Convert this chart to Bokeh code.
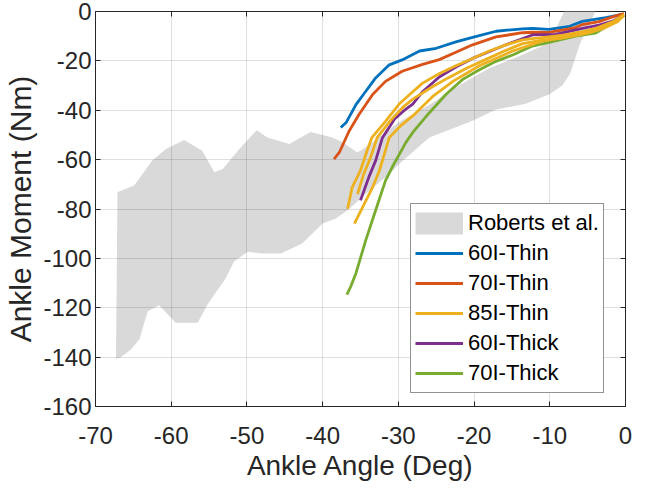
from bokeh.plotting import figure
from bokeh.models import (Legend, LegendItem, LinearAxis, FixedTicker, Range1d,
                          CustomLabelingPolicy)
from bokeh.embed import file_html
from bokeh.resources import INLINE

# ---- data ----
x_ticks = [-70, -60, -50, -40, -30, -20, -10, 0]
y_ticks = [-160, -140, -120, -100, -80, -60, -40, -20, 0]

roberts_upper_x = [-67.1, -64.9, -62.5, -60.7, -58.3, -55.9, -54.3, -53.2, -51.0, -48.7, -47.3, -44.4,
                   -41.6, -38.7, -37.4, -35.4, -34.7, -33.4, -30.0, -26.0, -22.0, -18.0, -14.0, -11.0,
                   -9.5, -8.1, -4.0]
roberts_upper_y = [-73.2, -70.5, -60.4, -55.7, -52.0, -56.4, -65.1, -63.8, -55.7, -48.1, -51.0, -53.7,
                   -48.8, -51.0, -53.0, -57.1, -55.8, -53.0, -45.0, -38.0, -30.0, -23.0, -18.0, -14.0,
                   -9.0, 0.0, 0.0]
roberts_lower_x = [-67.2, -67.3, -66.7, -65.3, -64.2, -63.1, -61.6, -59.4, -56.5, -55.2, -52.8, -51.7,
                   -49.9, -47.9, -45.5, -42.7, -40.0, -38.3, -36.7, -34.0, -31.2, -29.9, -25.9, -20.2,
                   -17.1, -13.2, -10.1, -8.3, -7.3, -6.0, -4.1]
roberts_lower_y = [-109.3, -140.6, -140.2, -136.8, -132.8, -121.4, -119.0, -126.1, -126.1, -118.7, -108.0, -101.3,
                   -97.3, -98.0, -98.0, -94.0, -85.9, -83.9, -80.5, -73.0, -65.8, -61.8, -51.0, -44.3,
                   -39.7, -37.4, -33.6, -29.9, -25.0, -13.0, -0.8]

thin60_x = [-37.6, -36.9, -35.6, -34.3, -33.0, -31.2, -29.5, -27.2, -25.0, -22.4, -20.2, -17.1, -13.6,
            -12.3, -10.1, -7.4, -5.7, -2.6, -0.4]
thin60_y = [-47.0, -45.0, -37.7, -32.3, -26.9, -21.6, -19.6, -16.0, -14.9, -12.3, -10.5, -8.0, -7.0,
            -6.8, -7.2, -6.0, -4.0, -2.5, -1.2]

thin70_x = [-38.5, -37.8, -36.5, -35.2, -33.4, -31.7, -29.5, -26.8, -24.6, -22.4, -20.2, -17.1, -13.6,
            -12.3, -10.1, -6.6, -5.7, -3.5, -1.3, -0.2]
thin70_y = [-59.8, -57.1, -48.4, -41.7, -33.6, -28.3, -24.2, -21.4, -19.5, -16.5, -13.5, -10.3, -8.6,
            -8.4, -8.5, -6.5, -5.3, -4.1, -1.8, -0.8]

thin85a_x = [-36.7, -36.1, -35.0, -34.2, -33.5, -31.7, -29.9, -28.1, -26.8, -24.5, -22.4, -20.2, -18.0,
             -15.8, -13.6, -12.3, -10.1, -8.0, -5.7, -3.9, -1.7, -0.2]
thin85a_y = [-79.9, -71.2, -64.4, -57.0, -51.1, -44.5, -37.5, -32.5, -29.0, -25.0, -22.0, -19.0, -16.0,
             -13.5, -11.5, -11.0, -10.3, -9.5, -8.2, -6.8, -4.2, -1.2]

thin85b_x = [-35.4, -34.6, -33.6, -32.8, -31.0, -29.3, -28.1, -25.5, -23.5, -21.0, -18.5, -16.0, -13.6,
             -11.0, -8.5, -6.0, -4.0, -2.0, -0.3]
thin85b_y = [-74.0, -66.0, -58.5, -51.1, -44.0, -38.5, -35.5, -30.5, -27.0, -23.0, -19.5, -16.0, -13.0,
             -11.6, -10.8, -9.3, -7.6, -5.2, -1.8]

thin85c_x = [-35.8, -34.5, -33.4, -32.5, -31.2, -29.6, -28.1, -25.5, -22.8, -19.3, -14.9, -11.0, -8.0,
             -5.0, -3.0, -1.0, -0.2]
thin85c_y = [-85.9, -77.9, -71.2, -64.4, -51.1, -46.0, -42.3, -34.5, -28.3, -22.0, -16.0, -12.0, -10.5,
             -8.8, -7.0, -4.0, -1.5]

thick60_x = [-35.0, -33.9, -33.0, -32.1, -30.5, -29.0, -28.1, -26.8, -24.6, -22.4, -20.2, -15.8, -12.3,
             -9.2, -5.7, -3.5, -1.8, -0.2]
thick60_y = [-76.5, -67.1, -60.4, -51.1, -43.5, -39.5, -37.5, -32.5, -26.5, -22.5, -19.0, -13.5, -9.5,
             -9.3, -6.8, -5.5, -4.0, -1.5]

thick70_x = [-36.8, -36.3, -35.6, -34.3, -33.0, -31.7, -30.8, -29.0, -28.1, -25.9, -23.7, -21.5, -19.3,
             -17.1, -14.9, -12.3, -10.1, -6.6, -4.0, -2.2, -0.2]
thick70_y = [-114.7, -111.5, -106.0, -92.6, -80.5, -68.5, -63.0, -53.0, -49.0, -41.0, -33.5, -27.5, -23.6,
             -20.2, -17.6, -14.0, -12.5, -10.0, -8.8, -5.5, -1.5]

labels = ["Roberts et al.", "60I-Thin", "70I-Thin", "85I-Thin", "60I-Thick", "70I-Thick"]

# ---- styling ----
FONT = "Liberation Sans"
AX = "#262626"
BLUE, ORANGE, YELLOW, PURPLE, GREEN = "#0072BD", "#D95319", "#EDB120", "#7E2F8E", "#77AC30"
GRAY = "#d9d9d9"
LW = 2.8

p = figure(frame_width=530, frame_height=395,
           x_range=Range1d(-70, 0), y_range=Range1d(-160, 0),
           output_backend="svg", toolbar_location=None,
           min_border_left=95, min_border_right=13, min_border_top=8, min_border_bottom=71,
           background_fill_color="white", border_fill_color="white")

p.outline_line_color = AX
p.outline_line_width = 1

for ax in (p.xaxis[0], p.yaxis[0]):
    ax.axis_line_color = None
    ax.major_tick_in = 5
    ax.major_tick_out = 0
    ax.minor_tick_in = 0
    ax.minor_tick_out = 0
    ax.major_tick_line_color = AX
    ax.major_label_text_font = FONT
    ax.major_label_text_font_size = "24px"
    ax.major_label_text_color = AX
    ax.axis_label_text_font = FONT
    ax.axis_label_text_font_style = "normal"
    ax.axis_label_text_color = AX

p.xaxis[0].axis_label_text_font_size = "28px"
p.yaxis[0].axis_label_text_font_size = "30px"
p.xaxis[0].ticker = FixedTicker(ticks=x_ticks)
p.yaxis[0].ticker = FixedTicker(ticks=y_ticks)
p.xaxis[0].major_label_overrides = {t: str(t) for t in x_ticks}
p.yaxis[0].major_label_overrides = {t: str(t) for t in y_ticks}
p.xaxis[0].axis_label = "Ankle Angle (Deg)"
p.yaxis[0].axis_label = "Ankle Moment (Nm)"
p.xaxis[0].major_label_standoff = 20
p.xaxis[0].axis_label_standoff = 3
p.yaxis[0].major_label_standoff = 4
p.yaxis[0].axis_label_standoff = 3

top = LinearAxis(ticker=FixedTicker(ticks=x_ticks), axis_line_color=None,
                 major_tick_in=5, major_tick_out=0, minor_tick_in=0, minor_tick_out=0,
                 major_tick_line_color=AX,
                 major_label_policy=CustomLabelingPolicy(code="for (const i of indices) { indices.unset(i) }\nreturn indices"),
                 major_label_standoff=0)
right = LinearAxis(ticker=FixedTicker(ticks=y_ticks), axis_line_color=None,
                   major_tick_in=5, major_tick_out=0, minor_tick_in=0, minor_tick_out=0,
                   major_tick_line_color=AX,
                   major_label_policy=CustomLabelingPolicy(code="for (const i of indices) { indices.unset(i) }\nreturn indices"),
                   major_label_standoff=0)
p.add_layout(top, "above")
p.add_layout(right, "right")

p.grid.grid_line_color = AX
p.grid.grid_line_alpha = 0.15
p.grid.grid_line_width = 1
p.xgrid.ticker = FixedTicker(ticks=x_ticks)
p.ygrid.ticker = FixedTicker(ticks=y_ticks)

band_x = roberts_upper_x + roberts_lower_x[::-1]
band_y = roberts_upper_y + roberts_lower_y[::-1]
p.patch(band_x, band_y, fill_color=GRAY, line_color=None, level="image")

# legend swatch for the band (drawn outside the visible ranges)
r_band_leg = p.line(x=[-300, -290], y=[-500, -500], line_color=GRAY, line_width=22, line_cap="butt")

r_blue = p.line(thin60_x, thin60_y, line_color=BLUE, line_width=LW)
r_orange = p.line(thin70_x, thin70_y, line_color=ORANGE, line_width=LW)
r_purple = p.line(thick60_x, thick60_y, line_color=PURPLE, line_width=LW)
r_green = p.line(thick70_x, thick70_y, line_color=GREEN, line_width=LW)
r_yel = p.line(thin85a_x, thin85a_y, line_color=YELLOW, line_width=LW)
p.line(thin85b_x, thin85b_y, line_color=YELLOW, line_width=LW)
p.line(thin85c_x, thin85c_y, line_color=YELLOW, line_width=LW)

legend = Legend(items=[LegendItem(label=labels[0], renderers=[r_band_leg]),
                       LegendItem(label=labels[1], renderers=[r_blue]),
                       LegendItem(label=labels[2], renderers=[r_orange]),
                       LegendItem(label=labels[3], renderers=[r_yel]),
                       LegendItem(label=labels[4], renderers=[r_purple]),
                       LegendItem(label=labels[5], renderers=[r_green])],
                location=(315, 13), padding=4, spacing=0, margin=0,
                label_height=30, glyph_height=30, glyph_width=48, label_standoff=5,
                border_line_color=AX, border_line_width=1, background_fill_alpha=1,
                label_text_font=FONT, label_text_font_size="22px", label_text_color="black")
p.add_layout(legend)

open("out.html", "w").write(file_html(p, INLINE))
